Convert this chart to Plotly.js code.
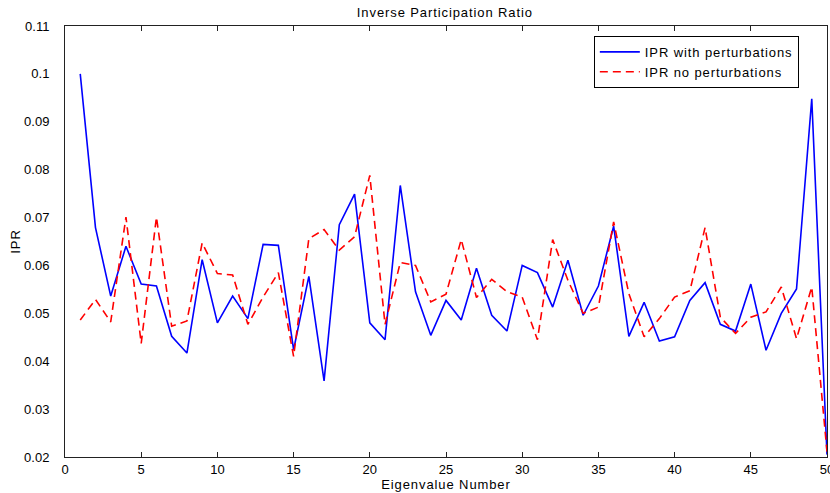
<!DOCTYPE html>
<html>
<head>
<meta charset="utf-8">
<script src="https://cdn.plot.ly/plotly-3.0.1.min.js"></script>
<style>
html,body{margin:0;padding:0;background:#fff;}
#chart{width:830px;height:493px;}
.gtitle, .xtitle, .ytitle, .legendtext {letter-spacing:0.9px;}
</style>
</head>
<body>
<div id="chart"></div>
<script>
const eigenNumbers = [1,2,3,4,5,6,7,8,9,10,11,12,13,14,15,16,17,18,19,20,21,22,23,24,25,26,27,28,29,30,31,32,33,34,35,36,37,38,39,40,41,42,43,44,45,46,47,48,49,50];
const iprWithPert = [0.1000,0.0679,0.0536,0.0640,0.0561,0.0557,0.0452,0.0417,0.0612,0.0480,
  0.0536,0.0489,0.0644,0.0642,0.0424,0.0577,0.0359,0.0685,0.0749,0.0480,
  0.0445,0.0767,0.0545,0.0454,0.0527,0.0486,0.0594,0.0496,0.0463,0.0600,
  0.0585,0.0513,0.0611,0.0496,0.0557,0.0682,0.0452,0.0523,0.0442,0.0451,
  0.0527,0.0564,0.0477,0.0463,0.0561,0.0423,0.0500,0.0551,0.0948,0.0205];
const iprNoPert = [0.0486,0.0529,0.0482,0.0701,0.0437,0.0701,0.0473,0.0484,0.0647,0.0583,
  0.0580,0.0477,0.0534,0.0585,0.0410,0.0656,0.0675,0.0632,0.0660,0.0788,
  0.0477,0.0606,0.0600,0.0524,0.0540,0.0654,0.0533,0.0571,0.0545,0.0534,
  0.0445,0.0654,0.0569,0.0500,0.0513,0.0691,0.0541,0.0451,0.0489,0.0534,
  0.0547,0.0679,0.0492,0.0458,0.0492,0.0503,0.0555,0.0447,0.0555,0.0211];
const xTickVals = [0,5,10,15,20,25,30,35,40,45,50];
const yTickVals = [0.02,0.03,0.04,0.05,0.06,0.07,0.08,0.09,0.1,0.11];
const yTickText = ['0.02','0.03','0.04','0.05','0.06','0.07','0.08','0.09','0.1','0.11'];

const font = {family: 'Liberation Sans, Arial, sans-serif', size: 13, color: '#000'};
const traces = [
  {x: eigenNumbers, y: iprWithPert, type: 'scatter', mode: 'lines', name: 'IPR with perturbations',
   line: {color: '#0000ff', width: 1.6}},
  {x: eigenNumbers, y: iprNoPert, type: 'scatter', mode: 'lines', name: 'IPR no perturbations',
   line: {color: '#ff0000', width: 1.6, dash: '8px,5px'}}
];
const axisCommon = {showline: true, linecolor: '#222', linewidth: 1, mirror: 'ticks', ticks: 'inside',
  ticklen: 5, tickcolor: '#222', showgrid: false, zeroline: false, tickfont: font};
const layout = {
  width: 830, height: 493,
  margin: {l: 65, r: 3, t: 26, b: 36},
  paper_bgcolor: '#fff', plot_bgcolor: '#fff',
  font: font,
  showlegend: true,
  title: {text: 'Inverse Participation Ratio', font: {family: font.family, size: 13, color: '#000'},
          x: 0.536, xanchor: 'center', y: 0.975, yanchor: 'middle'},
  xaxis: Object.assign({}, axisCommon, {range: [0, 50], tickvals: xTickVals, ticklabeloverflow: 'allow',
    title: {text: 'Eigenvalue Number', font: font, standoff: 2}}),
  yaxis: Object.assign({}, axisCommon, {range: [0.02, 0.11], tickvals: yTickVals, ticktext: yTickText,
    ticks: 'outside', ticklen: 12, tickcolor: 'rgba(0,0,0,0)', mirror: true,
    title: {text: 'IPR', font: font, standoff: 0}}),
  yaxis2: {overlaying: 'y', matches: 'y', side: 'left', range: [0.02, 0.11], tickvals: yTickVals,
    showticklabels: false, ticks: 'inside', ticklen: 5, tickcolor: '#222', mirror: 'ticks',
    showline: true, linecolor: '#222', linewidth: 1, showgrid: false, zeroline: false},
  legend: {x: 0.694, y: 0.977, xanchor: 'left', yanchor: 'top', bordercolor: '#000', borderwidth: 1,
    bgcolor: '#fff', font: font, tracegroupgap: 0, itemwidth: 40}
};
Plotly.newPlot('chart', traces, layout, {displayModeBar: false, staticPlot: true});
</script>
</body>
</html>
